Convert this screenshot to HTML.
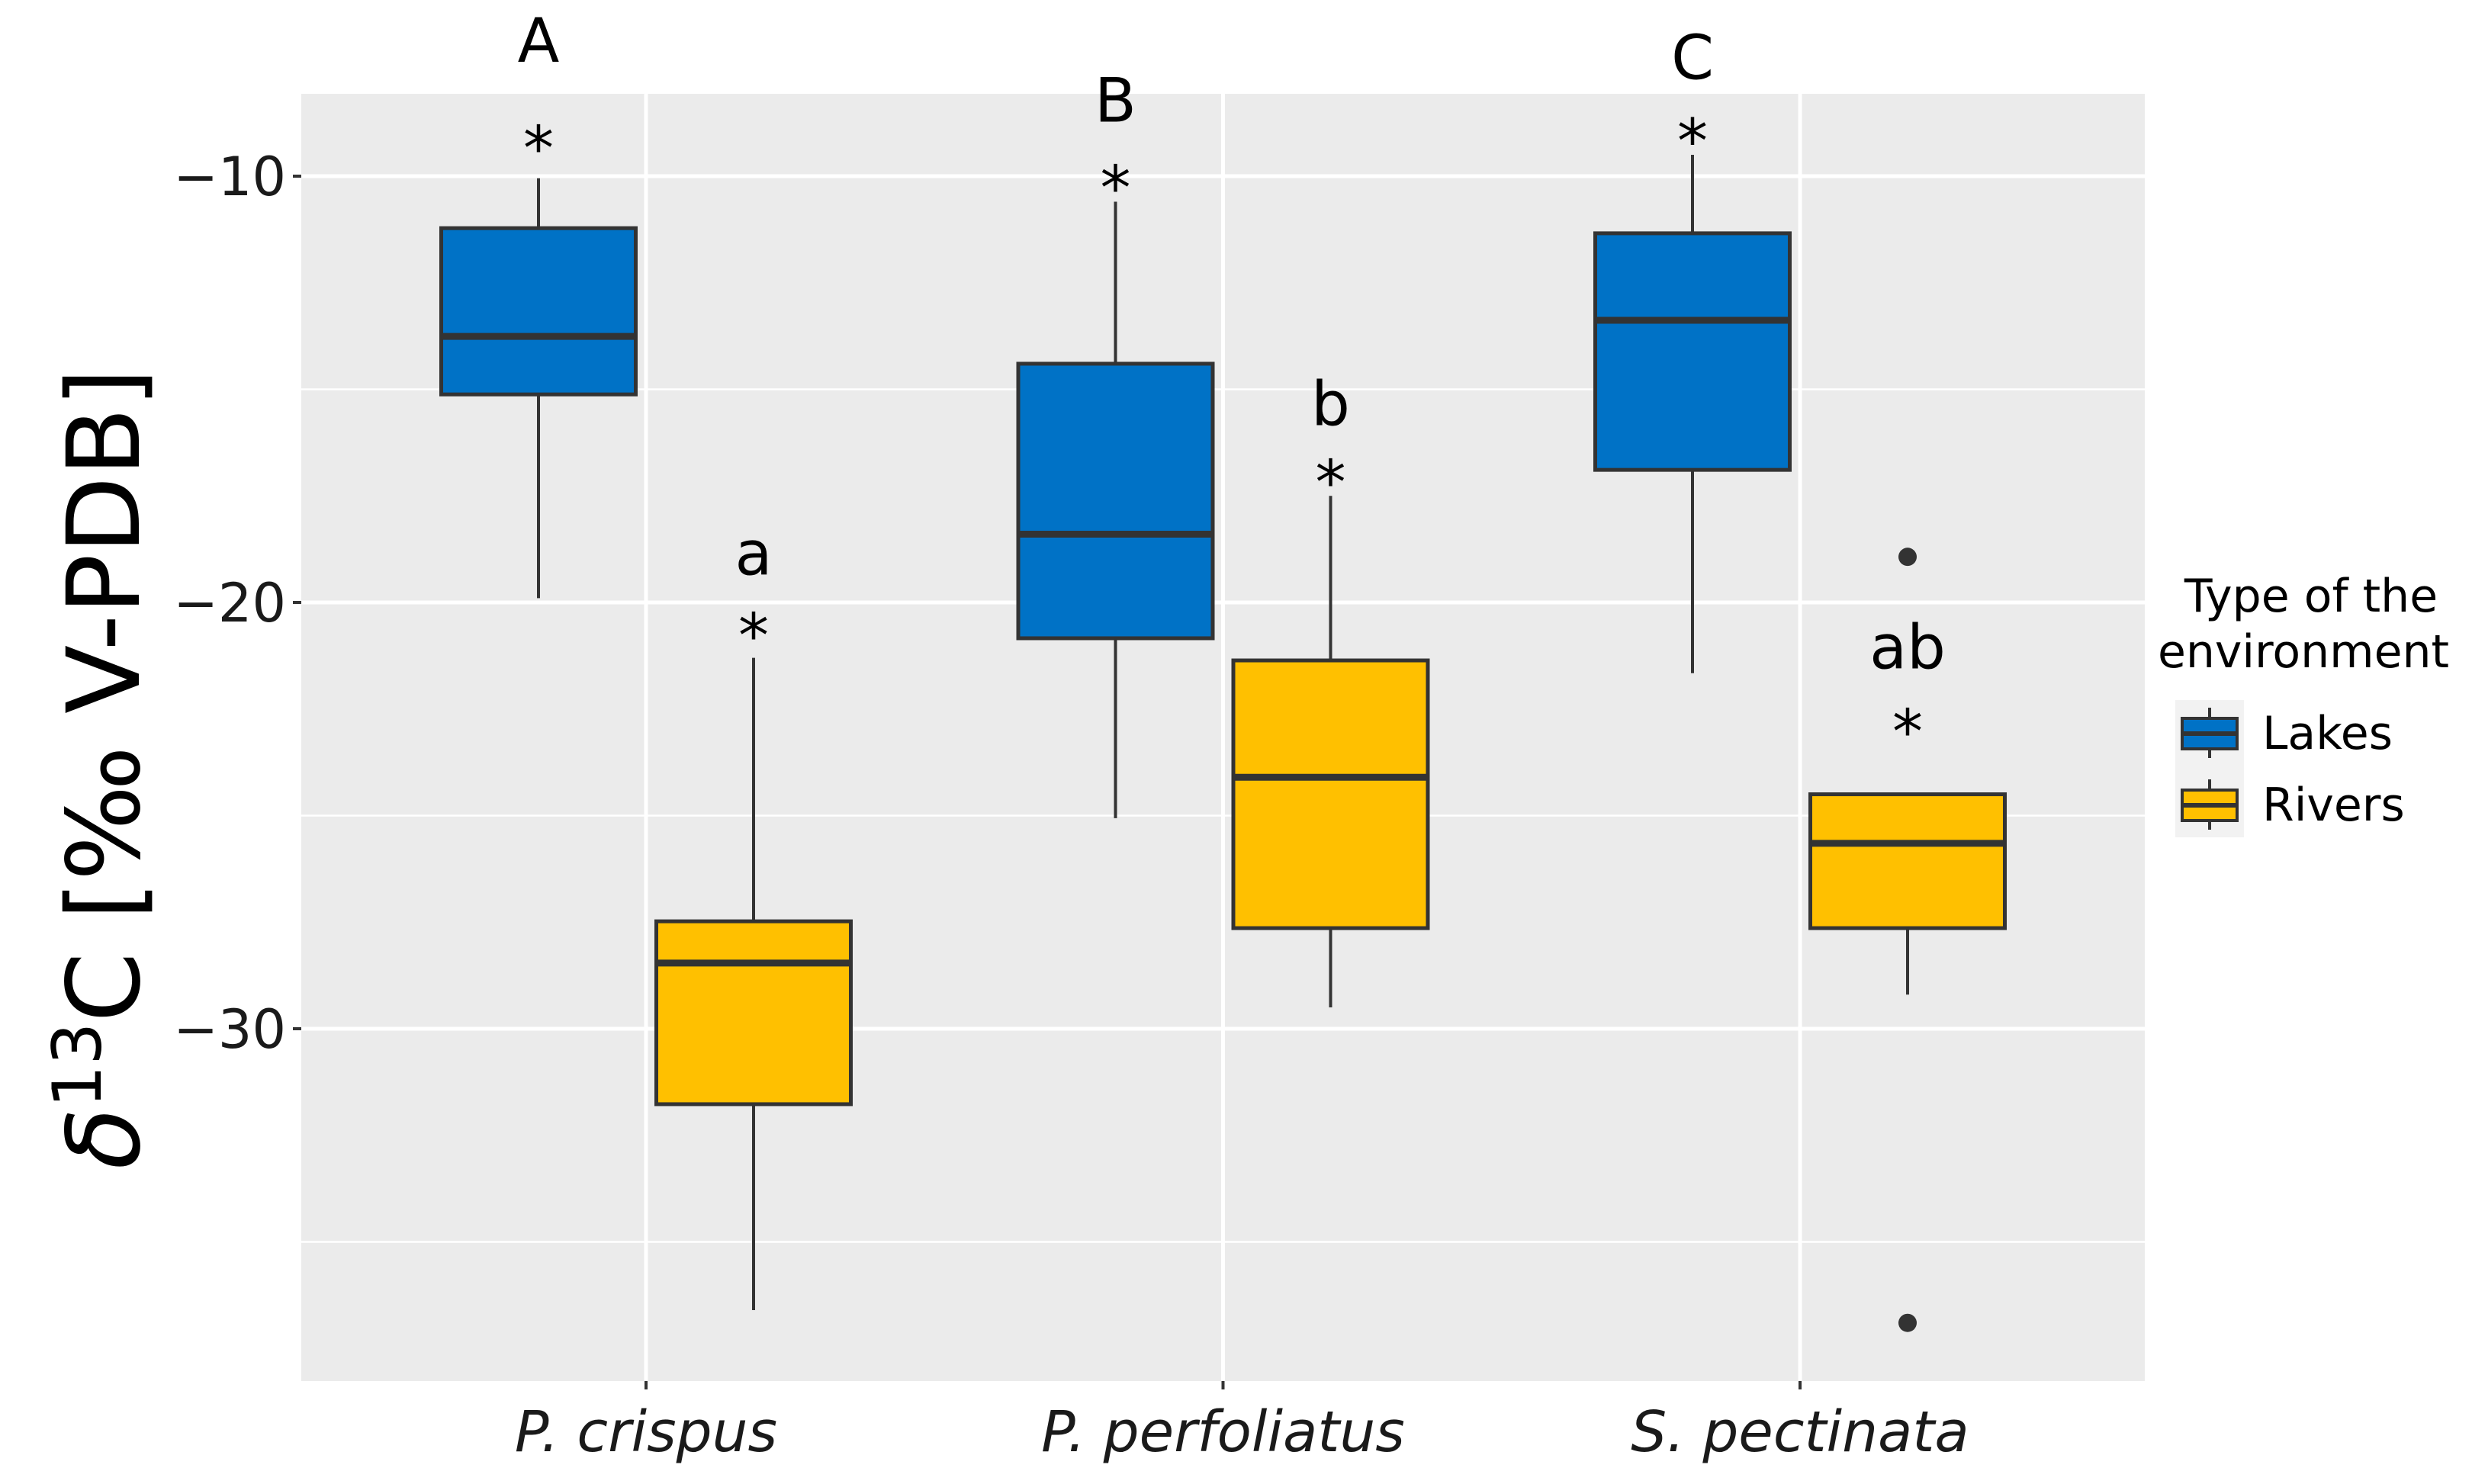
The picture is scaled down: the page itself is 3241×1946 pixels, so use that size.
<!DOCTYPE html>
<html><head><meta charset="utf-8"><style>
html,body{margin:0;padding:0;background:#fff;}
svg{display:block;font-family:"DejaVu Sans","Liberation Sans",sans-serif;}
</style></head><body>
<svg id="chart" width="3241" height="1946" viewBox="0 0 3241 1946" xmlns="http://www.w3.org/2000/svg">
<rect x="0" y="0" width="3241" height="1946" fill="#fff"/>
<g id="plot"></g>
<text transform="translate(182,1008) rotate(-90)" text-anchor="middle" font-size="132" fill="#000"><tspan font-style="italic">δ</tspan><tspan font-size="88" dy="-50">13</tspan><tspan dy="50">C [‰ V-PDB]</tspan></text>
<g>
<text x="3030" y="802" text-anchor="middle" font-size="60">Type of the</text>
<text x="3020" y="875" text-anchor="middle" font-size="60">environment</text>
<rect x="2852" y="918" width="90" height="180" fill="#f2f2f2"/>
<g>
<line x1="2897" y1="928" x2="2897" y2="994" stroke="#333" stroke-width="4"/>
<rect x="2861" y="942" width="72" height="40" fill="#0072C6" stroke="#333" stroke-width="4"/>
<line x1="2861" y1="962" x2="2933" y2="962" stroke="#333" stroke-width="6"/>
<text x="2966" y="982" font-size="60">Lakes</text>
</g>
<g>
<line x1="2897" y1="1022" x2="2897" y2="1088" stroke="#333" stroke-width="4"/>
<rect x="2861" y="1036" width="72" height="40" fill="#FFC000" stroke="#333" stroke-width="4"/>
<line x1="2861" y1="1056" x2="2933" y2="1056" stroke="#333" stroke-width="6"/>
<text x="2966" y="1076" font-size="60">Rivers</text>
</g>
</g>
</svg>
<script>
const categories = ["P. crispus", "P. perfoliatus", "S. pectinata"];
const groups = ["Lakes", "Rivers"];
const yTicks = [-10, -20, -30];
const yTickLabels = ["\u221210", "\u221220", "\u221230"];
const yMinor = [-15, -25, -35];
// [whiskerLow, q1, median, q3, whiskerHigh] per category
const lakesStats = [
  [-19.9, -15.12, -13.76, -11.22, -10.05],
  [-25.06, -20.84, -18.4, -14.4, -10.6],
  [-21.66, -16.89, -13.38, -11.34, -9.5]
];
const riversStats = [
  [-36.6, -31.77, -28.46, -27.48, -21.3],
  [-29.5, -27.64, -24.1, -21.36, -17.5],
  [-29.2, -27.64, -25.65, -24.5, -24.5]
];
const lakesOutliers = [[], [], []];
const riversOutliers = [[], [], [-18.93, -36.9]];
const lakesLetters = ["A", "B", "C"];
const riversLetters = ["a", "b", "ab"];
const lakesLetterPos = [-6.8, -8.2, -7.2];
const riversLetterPos = [-18.83, -15.32, -21.03];
const lakesStarPos = [-9.17, -10.1, -9.0];
const riversStarPos = [-20.6, -17.0, -22.85];

const NS = "http://www.w3.org/2000/svg";
const PL = 395, PR = 2812, PT = 123, PB = 1811;
function yScale(v){ return 231 + (-10 - v) * 55.9; }
function xScale(i){ return 847 + i * 756.5; }
const dodge = 141, bw = 255;
const colors = ["#0072C6", "#FFC000"];
const plot = document.getElementById("plot");
function mk(tag, attrs, parent){
  const e = document.createElementNS(NS, tag);
  for (const k in attrs) e.setAttribute(k, attrs[k]);
  (parent || plot).appendChild(e);
  return e;
}
const panel = mk("rect", {x:PL, y:PT, width:PR-PL, height:PB-PT, fill:"#EBEBEB"});


yMinor.forEach(v => {
  const l = mk("line", {x1:PL, x2:PR, y1:yScale(v), y2:yScale(v), stroke:"#fff", "stroke-width":2.5});
  
  
});
yTicks.forEach((v, i) => {
  const y = yScale(v);
  const l = mk("line", {x1:PL, x2:PR, y1:y, y2:y, stroke:"#fff", "stroke-width":5});
  
  
  const t = mk("line", {x1:PL-11, x2:PL, y1:y, y2:y, stroke:"#333", "stroke-width":4});
  
  
  const tx = mk("text", {x:PL-20, y:y+25, "text-anchor":"end", "font-size":70, fill:"#1a1a1a"});
  tx.textContent = yTickLabels[i];
  
  
});
categories.forEach((c, i) => {
  const x = xScale(i);
  const l = mk("line", {x1:x, x2:x, y1:PT, y2:PB, stroke:"#fff", "stroke-width":5});
  
  
  const t = mk("line", {x1:x, x2:x, y1:PB, y2:PB+11, stroke:"#333", "stroke-width":4});
  
  
  const tx = mk("text", {x:x, y:PB+92, "text-anchor":"middle", "font-size":74, "font-style":"italic", fill:"#1a1a1a"});
  tx.textContent = c;
  
  
});
[lakesStats, riversStats].forEach((stats, g) => {
  const outs = g === 0 ? lakesOutliers : riversOutliers;
  const letters = g === 0 ? lakesLetters : riversLetters;
  const lpos = g === 0 ? lakesLetterPos : riversLetterPos;
  const spos = g === 0 ? lakesStarPos : riversStarPos;
  stats.forEach((s, i) => {
    const cx = xScale(i) + (g === 0 ? -dodge : dodge);
    const grp = mk("g", {});
    
    
    mk("line", {x1:cx, x2:cx, y1:yScale(s[0]), y2:yScale(s[1]), stroke:"#333", "stroke-width":4}, grp);
    mk("line", {x1:cx, x2:cx, y1:yScale(s[3]), y2:yScale(s[4]), stroke:"#333", "stroke-width":4}, grp);
    mk("rect", {x:cx-bw/2, y:yScale(s[3]), width:bw, height:yScale(s[1])-yScale(s[3]), fill:colors[g], stroke:"#333", "stroke-width":5}, grp);
    mk("line", {x1:cx-bw/2, x2:cx+bw/2, y1:yScale(s[2]), y2:yScale(s[2]), stroke:"#333", "stroke-width":9}, grp);
    outs[i].forEach(v => {
      const d = mk("circle", {cx:cx, cy:yScale(v), r:12, fill:"#333"});
      
      
    });
    const st = mk("text", {x:cx, y:yScale(spos[i])+38, "text-anchor":"middle", "font-size":80, fill:"#000"});
    st.textContent = "*";
    
    
    const lt = mk("text", {x:cx, y:yScale(lpos[i])+29, "text-anchor":"middle", "font-size":80, fill:"#000"});
    lt.textContent = letters[i];
    
    
  });
});
</script>
</body></html>
